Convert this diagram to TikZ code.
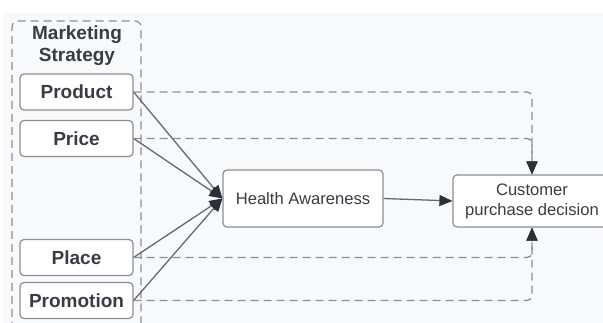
\documentclass[tikz,border=0pt]{standalone}
\usepackage{fontspec}
\setmainfont{Liberation Sans}
\usetikzlibrary{arrows.meta}

\definecolor{paper}{HTML}{F8F9FB}
\definecolor{ink}{HTML}{383C44}
\definecolor{edge}{HTML}{8A8E95}
\definecolor{wire}{HTML}{666A70}
\definecolor{tipc}{HTML}{2A3038}

\tikzset{
  mixbox/.style={draw=edge, line width=1.2pt, fill=white, rounded corners=4pt,
    minimum width=113pt, minimum height=36pt, text=ink,
    font=\fontsize{19}{22}\selectfont\bfseries},
  stagebox/.style={draw=edge, line width=1.2pt, fill=white, rounded corners=4pt,
    text=ink, align=center, font=\fontsize{16.6}{20}\selectfont},
  link/.style={draw=wire, line width=1.3pt,
    -{Triangle[length=13pt,width=11pt,color=tipc]}},
  sidelink/.style={link, dash pattern=on 8pt off 5pt, draw=edge, rounded corners=5pt}
}

\begin{document}
\begin{tikzpicture}[x=1pt, y=-1pt]
    \useasboundingbox (0,0) rectangle (603,323);
    \fill[white] (0,0) rectangle (603,323);
    \fill[paper] (3,13) rectangle (603,323);

    % marketing mix group
    \draw[edge, line width=1.2pt, dash pattern=on 8pt off 5pt, rounded corners=6pt]
        (12,330) -- (12,21) -- (141,21) -- (141,330);
    \node[text=ink, align=center, font=\fontsize{19}{22}\selectfont\bfseries] (mix) at (77,46) {Marketing\\Strategy};

    \node[mixbox] (product) at (76.5,92) {Product};
    \node[mixbox] (price) at (76.5,138.5) {Price};
    \node[mixbox] (place) at (76.5,257.5) {Place};
    \node[mixbox] (promo) at (76.5,300.5) {Promotion};

    \node[stagebox, minimum width=160pt, minimum height=57pt] (health) at (303,198.5) {Health Awareness};
    \node[stagebox, minimum width=158pt, minimum height=52pt] (decision) at (532,201) {Customer\\purchase decision};

    % direct effects
    \foreach \m in {product, price, place, promo}
        \draw[link] (\m.east) -- (health.west);
    \draw[link] (health.east) -- (decision.west);

    % dashed paths to the decision
    \draw[sidelink] (product.east) -| (decision.north);
    \draw[sidelink] (price.east) -| (decision.north);
    \draw[sidelink] (place.east) -| (decision.south);
    \draw[sidelink] (promo.east) -| (decision.south);
\end{tikzpicture}
\end{document}
